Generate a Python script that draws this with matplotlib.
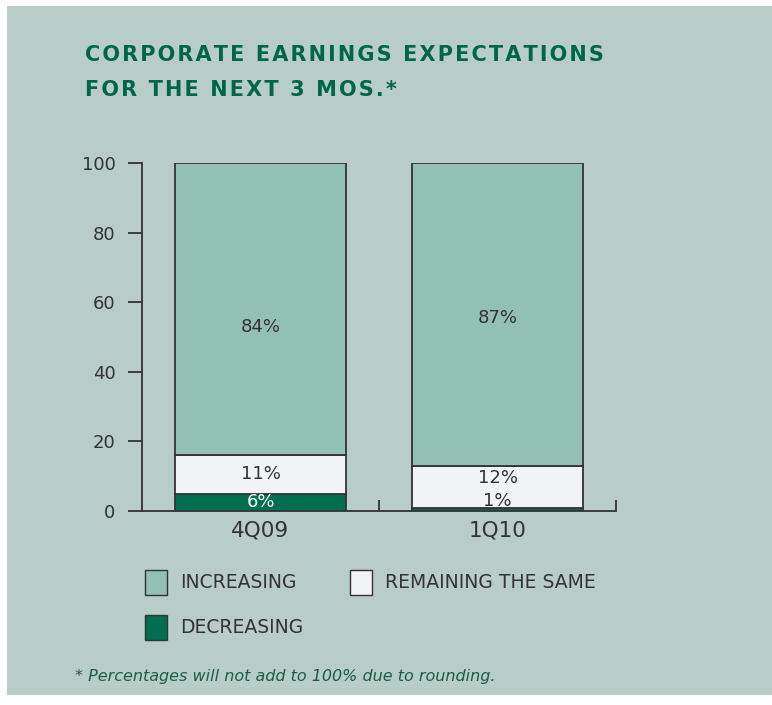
import matplotlib
matplotlib.use('Agg')
import matplotlib.pyplot as plt
from matplotlib.patches import Rectangle

# data
quarters = ['4Q09', '1Q10']
series = ['INCREASING', 'REMAINING THE SAME', 'DECREASING']
# bar heights as drawn (stacks sum to 100)
decreasing = [5, 1]
remaining = [11, 12]
increasing = [84, 87]
# printed values
dec_labels = ['6%', '1%']
rem_labels = ['11%', '12%']
inc_labels = ['84%', '87%']

W, H = 772, 705
bg = '#b8ccc8'
c_inc = '#93c0b4'
c_rem = '#f2f3f5'
c_dec = '#006f50'
green_txt = '#00664a'
dark = '#333333'

plt.rcParams['font.family'] = ['DejaVu Sans']

fig = plt.figure(figsize=(W / 100, H / 100), dpi=100)
fig.patch.set_facecolor('white')

def px(x, y):
    return x / W, 1 - y / H

# panel background
x0, y0 = px(7, 695)
fig.add_artist(Rectangle((x0, y0), (772 - 7) / W, (695 - 6) / H,
                         transform=fig.transFigure, facecolor=bg, edgecolor='none', zorder=0))

# title with loose letter spacing
def spaced(s):
    return '\u200a'.join(s)

fig.text(85 / W, 1 - 55 / H, spaced('CORPORATE EARNINGS EXPECTATIONS'), color=green_txt,
         fontsize=15, fontweight='bold', va='center', ha='left')
fig.text(85 / W, 1 - 90 / H, spaced('FOR THE NEXT 3 MOS.*'), color=green_txt,
         fontsize=15, fontweight='bold', va='center', ha='left')

# axes
l, b = px(142, 511)
ax = fig.add_axes([l, b, (616 - 142) / W, (511 - 163) / H])
ax.set_facecolor('none')

pos = [0.5, 1.5]
bw = 0.72
kw = dict(width=bw, edgecolor=dark, linewidth=1.3, zorder=3)
ax.bar(pos, decreasing, color=c_dec, **kw)
bottom2 = decreasing
ax.bar(pos, remaining, bottom=bottom2, color=c_rem, **kw)
bottom3 = [a + r for a, r in zip(decreasing, remaining)]
ax.bar(pos, increasing, bottom=bottom3, color=c_inc, **kw)

# segment labels
for i, p in enumerate(pos):
    dy = 2.5 if i == 1 else 0
    ax.text(p, decreasing[i] / 2 + dy, dec_labels[i], ha='center', va='center',
            fontsize=13, color='white' if i == 0 else dark, zorder=5)
    off = 2.5 if i == 1 else 0
    ax.text(p, bottom2[i] + remaining[i] / 2 + off, rem_labels[i], ha='center', va='center',
            fontsize=13, color=dark, zorder=5)
    off = -5 if i == 0 else -1
    ax.text(p, bottom3[i] + increasing[i] / 2 + off, inc_labels[i], ha='center', va='center',
            fontsize=13, color=dark, zorder=5)

ax.set_xlim(0, 2)
ax.set_ylim(0, 100)
for s in ['top', 'right']:
    ax.spines[s].set_visible(False)
for s in ['left', 'bottom']:
    ax.spines[s].set_color(dark)
    ax.spines[s].set_linewidth(1.3)

ax.set_yticks(range(0, 101, 20))
ax.tick_params(axis='y', direction='out', length=10, width=1.3, color=dark,
               labelsize=13, labelcolor=dark, pad=9)
ax.set_xticks([1, 2])
ax.set_xticklabels([])
ax.tick_params(axis='x', which='major', direction='in', length=8, width=1.3, color=dark)
ax.set_xticks(pos, minor=True)
ax.set_xticklabels(quarters, minor=True)
ax.tick_params(axis='x', which='minor', length=0, labelsize=15.5, labelcolor=dark, pad=7)

# legend
def legend_item(x, y, color, label):
    lx, ly = px(x, y + 25)
    fig.add_artist(Rectangle((lx, ly), 22 / W, 25 / H, transform=fig.transFigure,
                             facecolor=color, edgecolor=dark, linewidth=1.0))
    fig.text((x + 35) / W, 1 - (y + 12.5) / H, label, fontsize=13.5, color=dark,
             va='center', ha='left')

legend_item(145, 570, c_inc, series[0])
legend_item(350, 570, c_rem, series[1])
legend_item(145, 615, c_dec, series[2])

fig.text(75 / W, 1 - 677 / H, '* Percentages will not add to 100% due to rounding.',
         fontsize=11.5, style='italic', color='#1d5c45', va='center', ha='left')

fig.savefig('out.png', dpi=100, facecolor=fig.get_facecolor())
